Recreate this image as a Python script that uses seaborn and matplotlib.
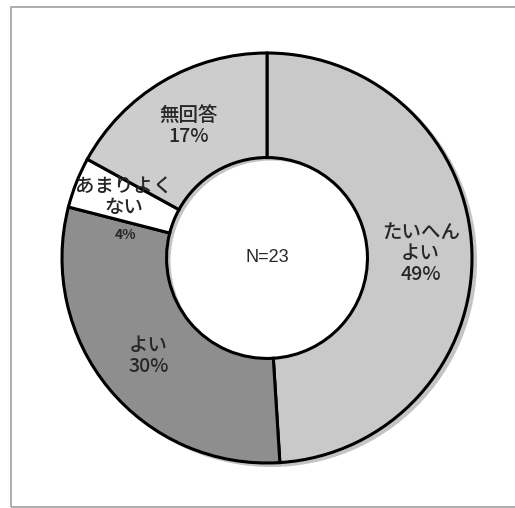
import matplotlib
matplotlib.use("Agg")
import matplotlib.pyplot as plt
import seaborn as sns
import numpy as np
from matplotlib.patches import Rectangle

sns.set_theme(style="white")
plt.rcParams['font.family'] = ['Noto Sans CJK JP', 'DejaVu Sans']

categories = ["たいへん\nよい", "よい", "あまりよく\nない", "無回答"]
values = [49, 30, 4, 17]
pct_labels = ["49%", "30%", "4%", "17%"]
colors = ["#c9c9c9", "#8e8e8e", "#ffffff", "#cdcdcd"]

W, H = 515, 508
fig = plt.figure(figsize=(W / 100, H / 100), dpi=100)
fig.patch.set_facecolor("white")
ax = fig.add_axes([0, 0, 1, 1])

# outer frame (right side runs off the image)
frame = Rectangle((11, 1), W + 20, H - 8, fill=False, edgecolor="#a0a0a0", linewidth=1.2)
ax.add_patch(frame)

cx, cy = 267, H - 258
R = 205
width = 0.51

# soft shadow ring offset to lower-right
ax.pie([sum(values)], colors=["#c4c4c4"], startangle=90, counterclock=False,
       center=(cx + 4, cy - 3), radius=R + 1, frame=True,
       wedgeprops=dict(width=R * width + 1, edgecolor="none", linewidth=0))

wedges, _ = ax.pie(values, colors=colors, startangle=90, counterclock=False,
                   center=(cx, cy), radius=R, frame=True,
                   wedgeprops=dict(width=R * width, edgecolor="black", linewidth=2.2))
ax.set_xlim(0, W)
ax.set_ylim(0, H)
ax.set_aspect("equal")
ax.axis("off")

# labels at mid-angle
for w, cat, pct in zip(wedges, categories, pct_labels):
    ang = np.deg2rad((w.theta1 + w.theta2) / 2)
    r = R * 0.75
    x = cx + r * np.cos(ang)
    y = cy + r * np.sin(ang)
    if pct == "4%":
        ax.text(x, y + 4, cat, ha="center", va="center", fontsize=14, linespacing=1.1,
                fontweight="medium")
        ax.text(x + 2, y - 34, pct, ha="center", va="center", fontsize=10,
                fontweight="bold")
    else:
        ax.text(x, y, cat + "\n" + pct, ha="center", va="center", fontsize=14,
                linespacing=1.15, fontweight="medium")

ax.text(cx, cy, "N=23", ha="center", va="center", fontsize=13,
        family=["Liberation Sans", "DejaVu Sans"])

fig.savefig("out.png", dpi=100, facecolor="white")
